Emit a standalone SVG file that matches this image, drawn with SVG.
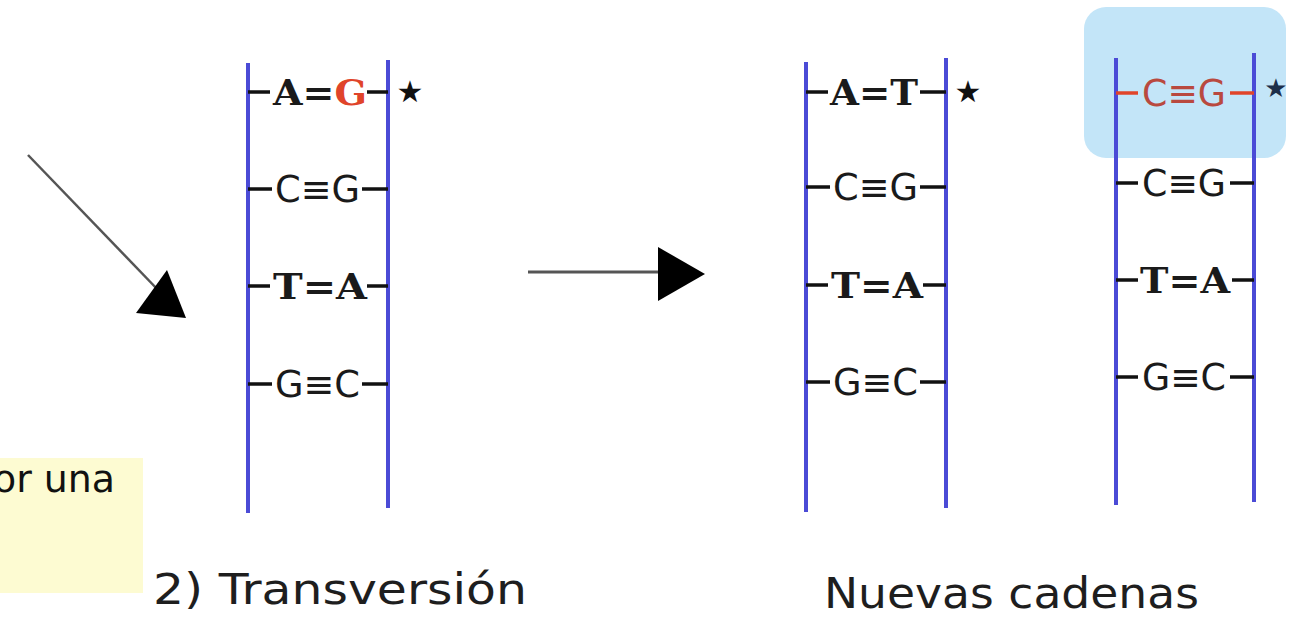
<svg xmlns="http://www.w3.org/2000/svg" width="1291" height="619" viewBox="0 0 1291 619">
<style>
.strand{stroke:#4b4bd6;stroke-width:4;stroke-linecap:butt}
.bond{stroke:#111;stroke-width:3.5}
.bondr{stroke:#e0442a;stroke-width:3.5}
.mono{font-family:"DejaVu Serif","Liberation Serif",serif;font-weight:bold;font-size:35px;fill:#1a1a1a}
.sans{font-family:"DejaVu Sans","Liberation Sans",sans-serif;font-size:37px;fill:#1a1a1a}
.star{font-family:"DejaVu Sans",sans-serif;font-size:30px;fill:#111;text-anchor:middle}
.label{font-family:"DejaVu Sans","Liberation Sans",sans-serif;font-size:43px;fill:#1e1e1e}
.note{font-family:"DejaVu Sans","Liberation Sans",sans-serif;font-size:38px;fill:#111}
</style>
<rect width="1291" height="619" fill="#fff"/>

<g id="note">
<rect x="0" y="458" width="143" height="135" fill="#fdfbd2"/>
<text class="note" x="-7" y="492" textLength="122" lengthAdjust="spacingAndGlyphs">or una</text>
</g>

<g id="connectors">
<line x1="28" y1="155" x2="160" y2="292" stroke="#555" stroke-width="2.5"/>
<polygon points="167,270 136,313 186,318" fill="#000"/>
<line x1="528" y1="272" x2="660" y2="272" stroke="#555" stroke-width="3"/>
<polygon points="658,247 658,301 705,274" fill="#000"/>
</g>

<g id="highlight">
<rect x="1084" y="7" width="202" height="151" rx="22" fill="#c3e5f8"/>
</g>

<g id="ladder1">
<line class="strand" x1="248" y1="63" x2="248" y2="513"/>
<line class="strand" x1="388" y1="60" x2="388" y2="508"/>
<line class="bond" x1="248" y1="92" x2="270" y2="92"/><line class="bond" x1="367" y1="92" x2="388" y2="92"/>
<text class="mono" x="273" y="105" textLength="94" lengthAdjust="spacingAndGlyphs">A=<tspan fill="#e0442a">G</tspan></text>
<text class="star" x="410" y="102">★</text>
<line class="bond" x1="248" y1="189" x2="272" y2="189"/><line class="bond" x1="362" y1="189" x2="388" y2="189"/>
<text class="sans" x="275" y="202" textLength="85" lengthAdjust="spacingAndGlyphs">C≡G</text>
<line class="bond" x1="248" y1="286" x2="270" y2="286"/><line class="bond" x1="367" y1="286" x2="388" y2="286"/>
<text class="mono" x="273" y="299" textLength="94" lengthAdjust="spacingAndGlyphs">T=A</text>
<line class="bond" x1="248" y1="384" x2="272" y2="384"/><line class="bond" x1="362" y1="384" x2="388" y2="384"/>
<text class="sans" x="275" y="397" textLength="85" lengthAdjust="spacingAndGlyphs">G≡C</text>
</g>

<g id="ladder2">
<line class="strand" x1="806" y1="62" x2="806" y2="512"/>
<line class="strand" x1="946" y1="58" x2="946" y2="508"/>
<line class="bond" x1="806" y1="92" x2="828" y2="92"/><line class="bond" x1="920" y1="92" x2="946" y2="92"/>
<text class="mono" x="830" y="105" textLength="88" lengthAdjust="spacingAndGlyphs">A=T</text>
<text class="star" x="968" y="102">★</text>
<line class="bond" x1="806" y1="187" x2="830" y2="187"/><line class="bond" x1="920" y1="187" x2="946" y2="187"/>
<text class="sans" x="833" y="200" textLength="85" lengthAdjust="spacingAndGlyphs">C≡G</text>
<line class="bond" x1="806" y1="285" x2="828" y2="285"/><line class="bond" x1="923" y1="285" x2="946" y2="285"/>
<text class="mono" x="831" y="298" textLength="92" lengthAdjust="spacingAndGlyphs">T=A</text>
<line class="bond" x1="806" y1="382" x2="830" y2="382"/><line class="bond" x1="920" y1="382" x2="946" y2="382"/>
<text class="sans" x="833" y="395" textLength="85" lengthAdjust="spacingAndGlyphs">G≡C</text>
</g>

<g id="ladder3">
<line class="strand" x1="1116" y1="58" x2="1116" y2="505"/>
<line class="strand" x1="1254" y1="53" x2="1254" y2="502"/>
<line class="bondr" x1="1116" y1="93" x2="1138" y2="93"/><line class="bondr" x1="1230" y1="93" x2="1254" y2="93"/>
<text class="sans" x="1142" y="106" textLength="84" lengthAdjust="spacingAndGlyphs" style="fill:#b9493f">C≡G</text>
<line class="bond" x1="1116" y1="183" x2="1138" y2="183"/><line class="bond" x1="1230" y1="183" x2="1254" y2="183"/>
<text class="sans" x="1142" y="196" textLength="84" lengthAdjust="spacingAndGlyphs">C≡G</text>
<line class="bond" x1="1116" y1="280" x2="1138" y2="280"/><line class="bond" x1="1232" y1="280" x2="1254" y2="280"/>
<text class="mono" x="1140" y="293" textLength="90" lengthAdjust="spacingAndGlyphs">T=A</text>
<line class="bond" x1="1116" y1="377" x2="1138" y2="377"/><line class="bond" x1="1230" y1="377" x2="1254" y2="377"/>
<text class="sans" x="1142" y="390" textLength="84" lengthAdjust="spacingAndGlyphs">G≡C</text>
<text class="star" x="1276" y="97" style="fill:#1d2f4a;font-size:26px">★</text>
</g>

<g id="captions">
<text class="label" x="153" y="604" textLength="374" lengthAdjust="spacingAndGlyphs">2) Transversión</text>
<text class="label" x="824" y="608" textLength="375" lengthAdjust="spacingAndGlyphs">Nuevas cadenas</text>
</g>
</svg>
